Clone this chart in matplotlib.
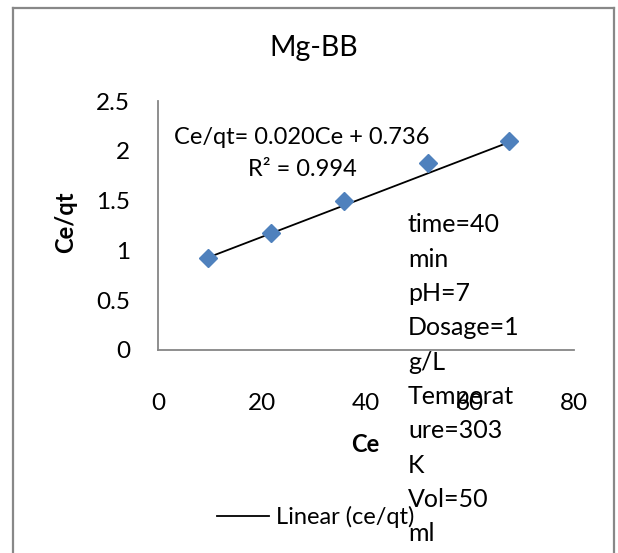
import matplotlib
matplotlib.use("Agg")
import matplotlib.pyplot as plt
from matplotlib.lines import Line2D
import numpy as np

plt.rcParams['font.family'] = ['Lato', 'DejaVu Sans']

# Ce (mg/L) and Ce/qt values for the Mg-BB adsorbent
ce = [9.7, 21.7, 35.8, 52.0, 67.5]
ce_qt = [0.92, 1.17, 1.495, 1.88, 2.10]

# Linear fit reported on the chart
slope = 0.020
intercept = 0.736
r_squared = 0.994

x_ticks = [0, 20, 40, 60, 80]
y_ticks = [0, 0.5, 1, 1.5, 2, 2.5]

conditions = ["time=40", "min", "pH=7", "Dosage=1", "g/L", "Temperat",
              "ure=303", "K", "Vol=50", "ml"]

W, H = 618, 553
fig = plt.figure(figsize=(W / 100, H / 100), dpi=100)
fig.patch.set_facecolor('white')


def fx(px):
    return px / W


def fy(py):
    return 1 - py / H


ax = fig.add_axes([fx(158), fy(350), fx(574) - fx(158), fy(101) - fy(350)])

axis_grey = '#868686'
for side in ('top', 'right'):
    ax.spines[side].set_visible(False)
for side in ('left', 'bottom'):
    ax.spines[side].set_color(axis_grey)
    ax.spines[side].set_linewidth(1.3)

ax.set_xlim(x_ticks[0], x_ticks[-1])
ax.set_ylim(y_ticks[0], y_ticks[-1])
ax.set_xticks(x_ticks)
ax.set_yticks(y_ticks)
ax.set_xticklabels([f"{v:g}" for v in x_ticks])
ax.set_yticklabels([f"{v:g}" for v in y_ticks])
ax.tick_params(axis='both', length=0, labelsize=17.5, colors='black')
ax.tick_params(axis='x', pad=31)
ax.tick_params(axis='y', pad=20)

# data points
ax.plot(ce, ce_qt, linestyle='none', marker='D', markersize=9,
        color='#4F81BD', markeredgecolor='#4F81BD', zorder=3)

# trendline over the data range
xs = np.array([min(ce), max(ce)])
trend, = ax.plot(xs, slope * xs + intercept, color='black', linewidth=1.3,
                 label='Linear (ce/qt)', zorder=2)

# equation and R²
fig.text(fx(302), fy(138), f"Ce/qt= {slope:.3f}Ce + {intercept:.3f}",
         ha='center', va='center', fontsize=17)
fig.text(fx(302), fy(170), f"R² = {r_squared:.3f}",
         ha='center', va='center', fontsize=17)

# title and axis labels
fig.text(fx(314), fy(48), "Mg-BB", ha='center', va='center', fontsize=20.5)
fig.text(fx(66), fy(222), "Ce/qt", ha='center', va='center', fontsize=17,
         fontweight='bold', rotation=90)
fig.text(fx(365), fy(445), "Ce", ha='center', va='center', fontsize=17,
         fontweight='bold')

# experimental conditions
for i, line in enumerate(conditions):
    fig.text(fx(408), fy(225 + 34.3 * i), line, ha='left', va='center',
             fontsize=18)

# legend
fig.legend(handles=[trend], loc='center left',
           bbox_to_anchor=(fx(217), fy(517)), frameon=False, fontsize=17,
           handlelength=2.2, handletextpad=0.3, borderpad=0,
           borderaxespad=0)

# outer chart border (open at the bottom)
border = '#888888'
for xs_, ys_ in (([13, 13], [8, 560]), ([614, 614], [8, 560]), ([13, 614], [8, 8])):
    fig.add_artist(Line2D([fx(v) for v in xs_], [fy(v) for v in ys_],
                          color=border, linewidth=1.6))

fig.savefig('out.png', dpi=100)
